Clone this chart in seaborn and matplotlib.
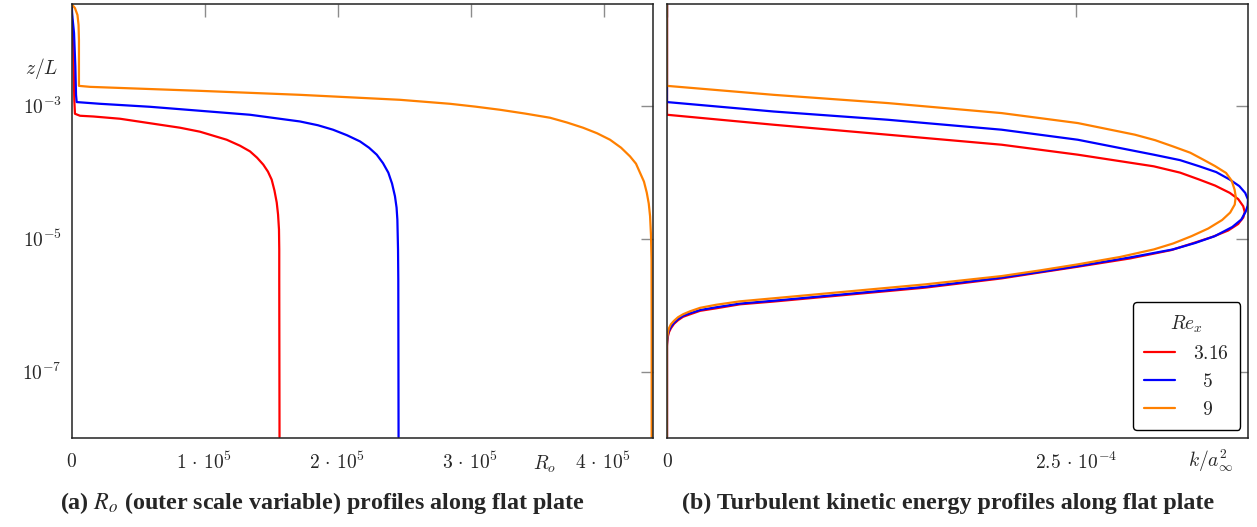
import matplotlib
matplotlib.use('Agg')
import matplotlib.pyplot as plt
import seaborn as sns
import numpy as np
import pandas as pd

# Re_x levels and colours
re_levels = ['3.16', '5', '9']
colors = {'3.16': '#ff0000', '5': '#0000ff', '9': '#ff8000'}

# (a) outer scale variable R_o against log10(z/L)
ro_316 = [0, 400, 1.4e3, 2.1e3, 2.6e3, 6.4e3, 1.64e4, 3.65e4, 6.65e4, 8.16e4, 9.66e4, 1.167e5,
          1.267e5, 1.342e5, 1.395e5, 1.442e5, 1.477e5, 1.505e5, 1.526e5, 1.543e5, 1.553e5,
          1.560e5, 1.562e5, 1.562e5, 1.564e5]
ro_316_lz = [-1.53, -1.71, -2.16, -2.91, -3.12, -3.15, -3.161, -3.195, -3.285, -3.33, -3.39,
             -3.511, -3.601, -3.686, -3.781, -3.886, -3.991, -4.111, -4.276, -4.456, -4.637,
             -4.862, -5.162, -5.613, -7.985]

ro_5 = [0, 400, 1.9e3, 2.9e3, 3.4e3, 3.9e3, 2.14e4, 5.9e4, 9.66e4, 1.342e5, 1.718e5, 1.853e5,
        1.966e5, 2.071e5, 2.169e5, 2.237e5, 2.295e5, 2.342e5, 2.382e5, 2.41e5, 2.432e5,
        2.444e5, 2.45e5, 2.455e5, 2.457e5, 2.459e5]
ro_5_lz = [-1.468, -1.604, -1.904, -2.41, -2.835, -2.944, -2.97, -3.015, -3.075, -3.135, -3.236,
           -3.293, -3.36, -3.443, -3.536, -3.631, -3.736, -3.863, -4.006, -4.171, -4.362,
           -4.532, -4.712, -5.162, -5.613, -7.985]

ro_9 = [0, 2.6e3, 4.5e3, 5.3e3, 5.6e3, 5.6e3, 1.39e4, 4.4e4, 9.66e4, 1.718e5, 2.47e5, 2.846e5,
        3.034e5, 3.222e5, 3.41e5, 3.598e5, 3.726e5, 3.846e5, 3.951e5, 4.049e5, 4.132e5,
        4.199e5, 4.244e5, 4.274e5, 4.304e5, 4.325e5, 4.34e5, 4.35e5, 4.357e5, 4.361e5,
        4.362e5, 4.362e5]
ro_9_lz = [-1.468, -1.529, -1.634, -1.784, -2.009, -2.70, -2.715, -2.737, -2.775, -2.835, -2.91,
           -2.97, -3.012, -3.06, -3.117, -3.18, -3.252, -3.33, -3.413, -3.511, -3.631, -3.761,
           -3.871, -4.006, -4.141, -4.306, -4.471, -4.662, -4.952, -5.312, -6.363, -7.985]

# (b) turbulent kinetic energy k/a_inf^2 against log10(z/L)
k_316 = [0, 0, 6.51e-5, 1.348e-4, 2.045e-4, 2.51e-4, 2.974e-4, 3.135e-4, 3.253e-4, 3.349e-4,
         3.439e-4, 3.49e-4, 3.521e-4, 3.53e-4, 3.521e-4, 3.49e-4, 3.429e-4, 3.335e-4, 3.209e-4,
         3.079e-4, 2.83e-4, 2.51e-4, 2.28e-4, 2.044e-4, 1.577e-4, 1.112e-4, 6.48e-5, 4.46e-5,
         3.0e-5, 2.02e-5, 1.41e-5, 9.8e-6, 6.7e-6, 4.3e-6, 2.4e-6, 1.2e-6, 6e-7, 2e-7, 0, 0]
k_316_lz = [-1.468, -3.135, -3.285, -3.435, -3.586, -3.736, -3.911, -4.006, -4.111, -4.201,
            -4.311, -4.404, -4.512, -4.599, -4.682, -4.779, -4.877, -4.971, -5.072, -5.173,
            -5.297, -5.422, -5.508, -5.598, -5.737, -5.842, -5.947, -5.988, -6.048, -6.086,
            -6.138, -6.176, -6.228, -6.281, -6.348, -6.408, -6.468, -6.544, -6.619, -7.985]

k_5 = [0, 0, 6.51e-5, 1.348e-4, 2.045e-4, 2.51e-4, 2.974e-4, 3.135e-4, 3.253e-4, 3.356e-4,
       3.439e-4, 3.497e-4, 3.533e-4, 3.55e-4, 3.548e-4, 3.536e-4, 3.509e-4, 3.454e-4, 3.347e-4,
       3.227e-4, 3.091e-4, 2.83e-4, 2.51e-4, 2.28e-4, 2.044e-4, 1.577e-4, 1.112e-4, 6.48e-5,
       4.46e-5, 3.0e-5, 2.02e-5, 1.41e-5, 9.8e-6, 6.7e-6, 4.3e-6, 2.4e-6, 1.2e-6, 6e-7, 2e-7, 0, 0]
k_5_lz = [-1.468, -2.944, -3.086, -3.21, -3.36, -3.511, -3.736, -3.818, -3.911, -3.998, -4.111,
          -4.209, -4.311, -4.411, -4.502, -4.592, -4.712, -4.824, -4.962, -5.065, -5.162, -5.282,
          -5.413, -5.5, -5.587, -5.725, -5.83, -5.935, -5.977, -6.033, -6.074, -6.123, -6.161,
          -6.213, -6.266, -6.326, -6.386, -6.438, -6.514, -6.589, -7.985]

k_9 = [0, 0, 6.51e-5, 1.348e-4, 2.045e-4, 2.51e-4, 2.859e-4, 2.983e-4, 3.091e-4, 3.197e-4,
       3.277e-4, 3.349e-4, 3.416e-4, 3.45e-4, 3.468e-4, 3.475e-4, 3.469e-4, 3.441e-4, 3.392e-4,
       3.307e-4, 3.205e-4, 3.093e-4, 2.974e-4, 2.769e-4, 2.509e-4, 2.28e-4, 2.044e-4, 1.577e-4,
       1.112e-4, 6.48e-5, 4.46e-5, 3.0e-5, 2.02e-5, 1.41e-5, 9.8e-6, 6.7e-6, 4.3e-6, 2.4e-6,
       1.2e-6, 6e-7, 2e-7, 0, 0]
k_9_lz = [-1.468, -2.70, -2.835, -2.959, -3.11, -3.26, -3.435, -3.518, -3.611, -3.706, -3.811,
          -3.908, -4.011, -4.126, -4.261, -4.366, -4.486, -4.607, -4.719, -4.847, -4.962, -5.072,
          -5.162, -5.275, -5.387, -5.477, -5.563, -5.688, -5.793, -5.898, -5.943, -5.995, -6.041,
          -6.093, -6.138, -6.183, -6.236, -6.288, -6.348, -6.408, -6.484, -6.559, -7.985]


def make_df(xs, lzs, name):
    frames = []
    for re, x, lz in zip(re_levels, xs, lzs):
        frames.append(pd.DataFrame({name: x, 'z': 10 ** np.array(lz), 'Re': re}))
    return pd.concat(frames, ignore_index=True)


df_a = make_df([ro_316, ro_5, ro_9], [ro_316_lz, ro_5_lz, ro_9_lz], 'Ro')
df_b = make_df([k_316, k_5, k_9], [k_316_lz, k_5_lz, k_9_lz], 'k')

sns.set_style('white')
plt.rcParams['mathtext.fontset'] = 'cm'
plt.rcParams['font.family'] = ['DejaVu Sans']

W, H = 1257, 527
fig = plt.figure(figsize=(W / 100, H / 100), dpi=100)
ax1 = fig.add_axes([71.5 / W, 1 - 438 / H, 581.5 / W, 434 / H])
ax2 = fig.add_axes([667 / W, 1 - 438 / H, 581 / W, 434 / H])

for ax, df, col in [(ax1, df_a, 'Ro'), (ax2, df_b, 'k')]:
    sns.lineplot(data=df, x=col, y='z', hue='Re', hue_order=re_levels, palette=colors,
                 sort=False, estimator=None, legend=False, lw=1.6, ax=ax)
    ax.set_yscale('log')
    ax.set_ylim(1e-8, 10 ** -1.468)
    ax.set_xlabel('')
    ax.set_ylabel('')
    ax.tick_params(direction='in', length=9, width=1, color='#8c8c8c', top=True, right=True,
                   labelsize=14)
    ax.tick_params(axis='x', pad=10)
    ax.tick_params(axis='y', pad=7)
    ax.minorticks_off()
    ax.set_yticks([1e-3, 1e-5, 1e-7])
    for s in ax.spines.values():
        s.set_color('#222222')
        s.set_linewidth(1.1)

ax1.set_xlim(0, 4.372e5)
ax1.set_xticks([0, 1e5, 2e5, 3e5, 4e5])
ax1.set_xticklabels([r'$0$', r'$1\,\cdot\,10^{5}$', r'$2\,\cdot\,10^{5}$', r'$3\,\cdot\,10^{5}$',
                     r'$4\,\cdot\,10^{5}$'])
ax1.set_yticklabels([r'$10^{-3}$', r'$10^{-5}$', r'$10^{-7}$'])

ax2.set_xlim(0, 3.55e-4)
ax2.set_xticks([0, 2.5e-4])
ax2.set_xticklabels([r'$0$', r'$2.5\,\cdot\,10^{-4}$'])
ax2.set_yticklabels([])

# labels centred under "3.16" like the original legend
leg_labels = [r'$3.16$', r'$\;\;5$', r'$\;\;9$']
leg = ax2.legend(handles=ax2.lines[:3], labels=leg_labels,
                 title=r'$Re_x$', loc='lower right', bbox_to_anchor=(0.987, 0.018),
                 borderaxespad=0, fontsize=14, title_fontsize=14, frameon=True, fancybox=True,
                 handlelength=1.6, labelspacing=0.45, alignment='center', borderpad=0.6,
                 handletextpad=0.9)
leg.get_frame().set_edgecolor('black')
leg.get_frame().set_linewidth(1.0)
leg.get_frame().set_alpha(1)

fig.text(42 / W, 1 - 69 / H, r'$z/L$', fontsize=14, ha='center', va='center')
fig.text(545 / W, 1 - 464 / H, r'$R_o$', fontsize=14, ha='center', va='center')
fig.text(1210 / W, 1 - 461 / H, r'$k/a_\infty^2$', fontsize=14, ha='center', va='center')

cap = dict(fontsize=17.3, fontweight='bold', family='Liberation Serif', ha='center',
           va='center', math_fontfamily='stix')
fig.text(322 / W, 1 - 503 / H, r'(a) $R_o$ (outer scale variable) profiles along flat plate', **cap)
fig.text(948 / W, 1 - 503 / H, '(b) Turbulent kinetic energy profiles along flat plate', **cap)

fig.savefig('out.png', dpi=100)
